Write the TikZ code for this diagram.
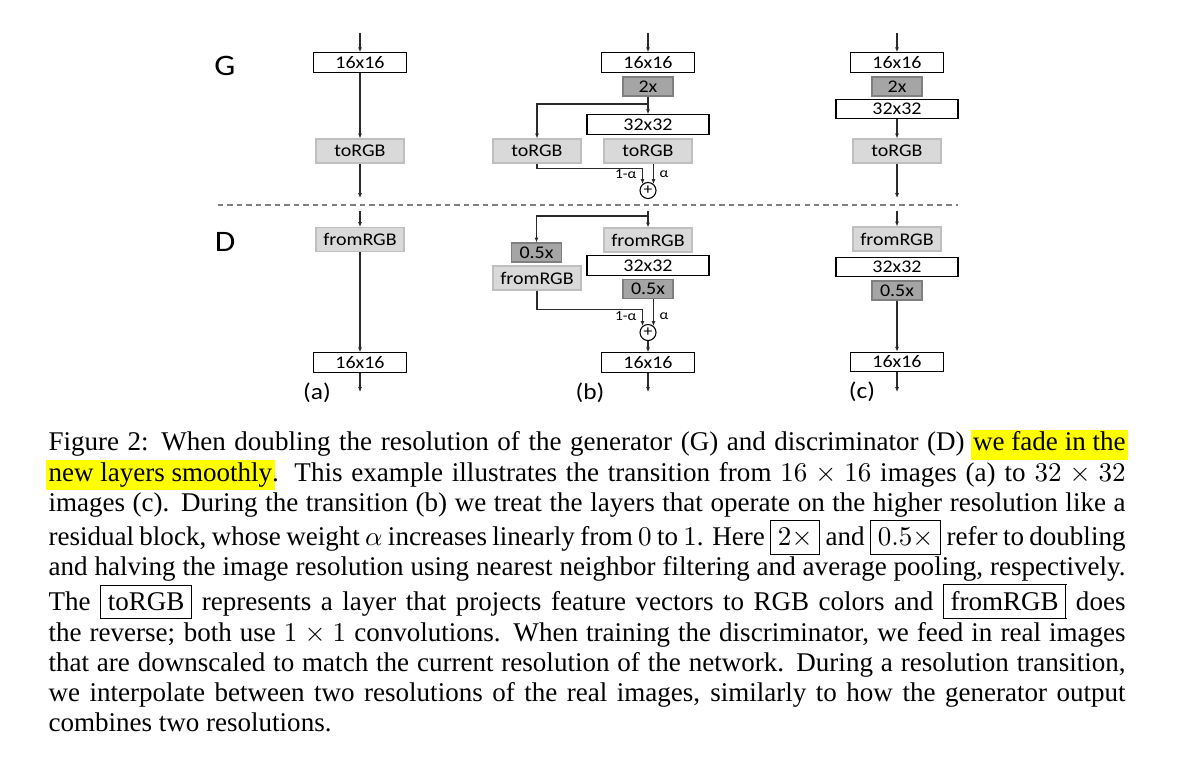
\documentclass[tikz,border=0pt]{standalone}
\usepackage[no-math]{fontspec}
\setmainfont{Liberation Serif}
\newfontfamily\figfont[FakeStretch=1.12]{Carlito}
\usetikzlibrary{positioning,arrows.meta}

\newcommand{\pxl}{0.37pt}
\definecolor{boxlight}{HTML}{D9D9D9}
\definecolor{boxlightline}{HTML}{BFBFBF}
\definecolor{boxdark}{HTML}{A5A5A5}
\definecolor{boxdarkline}{HTML}{7F7F7F}
\definecolor{flowline}{HTML}{2A2A2A}
\definecolor{hlyellow}{HTML}{FFFF00}
% highlighted words, the marker does not change the line
\newcommand{\hlword}[1]{{\setlength{\fboxsep}{0pt}\hspace*{-1pt}\colorbox{hlyellow}{\hspace*{1pt}\strut #1\hspace*{1pt}}\hspace*{-1pt}}}
\newcommand{\capfont}{\rmfamily\fontsize{10}{11.2}\selectfont\lineskiplimit=0pt\lineskip=1pt\setlength{\fboxsep}{2.5pt}}

\begin{document}
\begin{tikzpicture}[x=\pxl, y=-\pxl,
    every node/.style={inner sep=0pt, font=\figfont\fontsize{6.6}{7}\selectfont},
    resbox/.style={draw=black, line width=0.4pt, fill=white, minimum width=93*\pxl, minimum height=19.5*\pxl},
    widebox/.style={resbox, minimum width=122*\pxl},
    rgbbox/.style={draw=boxlightline, line width=0.4pt, fill=boxlight, minimum width=88*\pxl, minimum height=24*\pxl},
    sclbox/.style={draw=boxdarkline, line width=0.4pt, fill=boxdark, minimum width=50*\pxl, minimum height=19*\pxl},
    sumcirc/.style={circle, draw=black, line width=0.4pt, minimum size=16*\pxl, font=\figfont\fontsize{5.8}{6}\selectfont},
    wlabel/.style={font=\figfont\fontsize{5.1}{5.5}\selectfont},
    sublabel/.style={font=\figfont\fontsize{8.4}{9}\selectfont},
    netlabel/.style={font=\figfont\fontsize{11}{12}\selectfont},
    flow/.style={draw=flowline, line width=0.45pt, -{Latex[length=1.8pt,width=1.5pt]}}]
  \useasboundingbox (0,0) rectangle (1182,758);

  % free ends of the three columns
  \foreach \c/\x in {a/360,b/648,c/897}{
    \coordinate (\c In) at (\x,33);
    \coordinate (\c Gout) at (\x,198);
    \coordinate (\c Din) at (\x,211);
    \coordinate (\c Out) at (\x,392);
  }

  \node[netlabel] (gen) at (225,66) {G};
  \node[netlabel] (dis) at (225,242) {D};
  \draw[draw=gray, line width=0.4pt, dash pattern=on 2pt off 1.5pt] (218,205) -- (958,205);

  % (a)
  \node[resbox] (aG16) at (360,62.5) {16x16};
  \node[rgbbox] (aGrgb) at (360,151) {toRGB};
  \node[rgbbox] (aDrgb) at (360,239.5) {fromRGB};
  \node[resbox] (aD16) at (360,362.5) {16x16};
  \draw[flow] (aIn) -- (aG16.north);
  \draw[flow] (aG16.south) -- (aGrgb.north);
  \draw[flow] (aGrgb.south) -- (aGout);
  \draw[flow] (aDin) -- (aDrgb.north);
  \draw[flow] (aDrgb.south) -- (aD16.north);
  \draw[flow] (aD16.south) -- (aOut);
  \node[sublabel] (suba) at (317,393) {(a)};

  % (b) generator
  \node[resbox] (bG16) at (648,62.5) {16x16};
  \node[sclbox] (bG2x) at (648,86.5) {2x};
  \node[widebox] (bG32) at (648,124.5) {32x32};
  \node[rgbbox] (bGrgbR) at (648,151) {toRGB};
  \node[rgbbox] (bGrgbL) at (537,151) {toRGB};
  \node[sumcirc] (bGsum) at (648,190.5) {+};
  \coordinate (bGfork) at (648,104);
  \draw[flow] (bIn) -- (bG16.north);
  \draw[flow] (bG2x.south) -- (bG32.north);
  \draw[flow] (bGfork) -| (bGrgbL.north);
  \draw[flow] (bGrgbL.south) -- ++(0,5) -| (bGsum.130);
  \draw[flow] (bGrgbR.south -| bGsum.50) -- (bGsum.50);
  \node[wlabel, anchor=east] (bGw1) at (637,174) {1-α};
  \node[wlabel, anchor=west] (bGw2) at (659,174) {α};

  % (b) discriminator
  \node[rgbbox] (bDrgbR) at (648,240) {fromRGB};
  \node[widebox] (bD32) at (648,265.5) {32x32};
  \node[sclbox] (bDsclR) at (648,289) {0.5x};
  \node[sclbox] (bDsclL) at (536.5,252.5) {0.5x};
  \node[rgbbox] (bDrgbL) at (537,278) {fromRGB};
  \node[sumcirc] (bDsum) at (648,332.5) {+};
  \node[resbox] (bD16) at (648,362.5) {16x16};
  \coordinate (bDfork) at (648,216);
  \draw[flow] (bDin) -- (bDrgbR.north);
  \draw[flow] (bDfork) -| (bDsclL.north);
  \draw[flow] (bDrgbL.south) -- ++(0,19) -| (bDsum.130);
  \draw[flow] (bDsclR.south -| bDsum.50) -- (bDsum.50);
  \draw[flow] (bDsum.south) -- (bD16.north);
  \draw[flow] (bD16.south) -- (bOut);
  \node[wlabel, anchor=east] (bDw1) at (637,316) {1-α};
  \node[wlabel, anchor=west] (bDw2) at (659,316) {α};
  \node[sublabel] (subb) at (590,393) {(b)};

  % (c)
  \node[resbox] (cG16) at (897,62.5) {16x16};
  \node[sclbox] (cG2x) at (897,86.5) {2x};
  \node[widebox] (cG32) at (897,109) {32x32};
  \node[rgbbox] (cGrgb) at (897,151) {toRGB};
  \node[rgbbox] (cDrgb) at (897,239) {fromRGB};
  \node[widebox] (cD32) at (897,267) {32x32};
  \node[sclbox] (cDscl) at (897,290.5) {0.5x};
  \node[resbox] (cD16) at (897,362) {16x16};
  \draw[flow] (cIn) -- (cG16.north);
  \draw[flow] (cG32.south) -- (cGrgb.north);
  \draw[flow] (cGrgb.south) -- (cGout);
  \draw[flow] (cDin) -- (cDrgb.north);
  \draw[flow] (cDscl.south) -- (cD16.north);
  \draw[flow] (cD16.south) -- (cOut);
  \node[sublabel] (subc) at (862,392) {(c)};

  % caption
  \node[anchor=north west, text width=1077*\pxl, align=justify, font=\capfont] (cap) at (48,429) {\noindent\hyphenpenalty=10000
    Figure 2: When doubling the resolution of the generator (G) and discriminator (D) \hlword{we fade in the}\linebreak
    \hlword{new layers smoothly}. This example illustrates the transition from $16\times16$ images (a) to $32\times32$\linebreak
    images (c). During the transition (b) we treat the layers that operate on the higher resolution like a\linebreak
    residual block, whose weight $\alpha$ increases linearly from $0$ to $1$. Here \fbox{$2\times$} and \fbox{$0.5\times$} refer to doubling\linebreak
    and halving the image resolution using nearest neighbor filtering and average pooling, respectively.\linebreak
    The \fbox{toRGB} represents a layer that projects feature vectors to RGB colors and \fbox{fromRGB} does\linebreak
    the reverse; both use $1\times1$ convolutions. When training the discriminator, we feed in real images\linebreak
    that are downscaled to match the current resolution of the network. During a resolution transition,\linebreak
    we interpolate between two resolutions of the real images, similarly to how the generator output\linebreak
    combines two resolutions.};
\end{tikzpicture}
\end{document}
